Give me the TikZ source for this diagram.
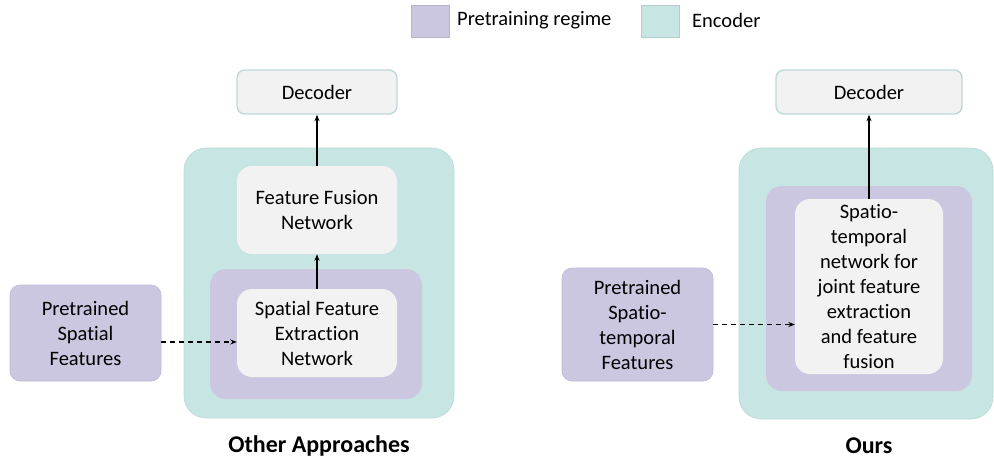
\documentclass[tikz,border=0pt]{standalone}
\usepackage{fontspec}
\setmainfont{Carlito}[Ligatures=NoCommon]
\usetikzlibrary{arrows.meta}
\definecolor{teal}{HTML}{C6E5E3}
\definecolor{tealline}{HTML}{BBD9D7}
\definecolor{purp}{HTML}{CBC7E0}
\definecolor{purpline}{HTML}{BDB8D6}
\definecolor{lightbox}{HTML}{F2F2F2}
\tikzset{
  base/.style={inner sep=0pt, align=center, font=\fontsize{20.5}{25}\selectfont},
  encbox/.style={base, fill=teal, draw=tealline, line width=0.6pt, rounded corners=22pt},
  prebox/.style={base, fill=purp, rounded corners=16pt},
  inbox/.style={base, fill=lightbox, rounded corners=15pt},
  decbox/.style={base, fill=lightbox, draw=tealline, line width=1.4pt, rounded corners=8pt},
  featbox/.style={base, fill=purp, draw=purpline, line width=0.6pt, rounded corners=10pt},
  legsq/.style={fill=#1, draw=#1!90!black, line width=0.4pt, minimum width=38pt, minimum height=32pt, inner sep=0pt},
  legtxt/.style={base, anchor=west},
  title/.style={inner sep=0pt, font=\fontsize{24}{28}\selectfont\bfseries},
  arr/.style={-{Stealth[length=6.5pt,width=5pt]}, line width=1.3pt},
  darr/.style={arr, dashed, dash pattern=on 5pt off 4pt}
}
\begin{document}
\begin{tikzpicture}[x=1pt,y=-1pt]
\useasboundingbox (0,0) rectangle (994,461);
% legend
\node[legsq=purp] (lp) at (430,21) {};
\node[legtxt] (lpt) at (457,20) {Pretraining regime};
\node[legsq=teal] (lt) at (660.5,21) {};
\node[legtxt] (ltt) at (692,20) {Encoder};
% left
\node[encbox, minimum width=270pt, minimum height=270pt] (encL) at (319,283) {};
\node[prebox, minimum width=212pt, minimum height=130pt] (preL) at (316,334) {};
\node[decbox, minimum width=160pt, minimum height=44pt] (decL) at (317,92) {Decoder};
\node[inbox, minimum width=160pt, minimum height=88pt] (ffn) at (317,210) {Feature Fusion\\Network};
\node[inbox, minimum width=160pt, minimum height=88pt] (sfe) at (317,333) {Spatial Feature\\Extraction\\Network};
\node[featbox, minimum width=151pt, minimum height=96pt] (pstL) at (85.5,333) {Pretrained\\Spatial\\Features};
\draw[arr] (sfe.north) -- (ffn.south);
\draw[arr] (ffn.north) -- (decL.south);
\coordinate (dl) at ([yshift=-9pt]pstL.east);
\draw[darr] (dl) -- (sfe.west |- dl);
\node[title] (tl) at (319,446) {Other Approaches};
% right
\node[encbox, minimum width=254pt, minimum height=271pt] (encR) at (866,283.5) {};
\node[prebox, minimum width=206pt, minimum height=205pt] (preR) at (869,288.5) {};
\node[decbox, minimum width=186pt, minimum height=44pt] (decR) at (869,92) {Decoder};
\node[inbox, minimum width=148pt, minimum height=175pt] (st) at (869,286.5) {Spatio-\\temporal\\network for\\joint feature\\extraction\\and feature\\fusion};
\node[featbox, minimum width=151pt, minimum height=113pt] (pstR) at (637.5,324.5) {Pretrained\\Spatio-\\temporal\\Features};
\draw[arr] (st.north) -- (decR.south);
\coordinate (dr) at (pstR.east);
\draw[darr] (dr) -- (st.west |- dr);
\node[title] (tr) at (869,446) {Ours};
\end{tikzpicture}
\end{document}
